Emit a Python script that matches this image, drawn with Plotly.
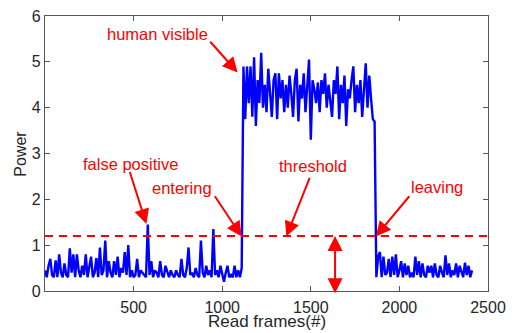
import plotly.graph_objects as go

# ---------------- data ----------------
frames_low1 = list(range(0, 1120, 10))
power_low1 = [0.45, 0.3, 0.55, 0.7, 0.35, 0.3, 0.67, 0.3, 0.8, 0.4,
              0.3, 0.6, 0.35, 0.3, 0.93, 0.4, 0.8, 0.3, 0.8, 0.45,
              0.3, 0.55, 0.35, 0.8, 0.3, 0.5, 0.75, 0.3, 0.4, 0.72,
              0.3, 0.95, 0.35, 0.45, 1.1, 0.3, 0.65, 0.4, 0.3, 0.65,
              0.35, 0.75, 0.3, 0.5, 0.4, 0.85, 0.35, 1.0, 0.3, 0.45,
              0.3, 0.35, 0.7, 0.3, 0.45, 0.4, 0.35, 0.3, 1.45, 0.35,
              0.65, 0.3, 0.45, 0.4, 0.3, 0.65, 0.35, 0.3, 0.55, 0.4,
              0.3, 0.45, 0.35, 0.3, 0.45, 0.35, 0.3, 0.7, 0.35, 0.3,
              0.5, 0.95, 0.35, 0.4, 0.3, 0.5, 0.35, 0.3, 1.1, 0.4,
              0.3, 0.55, 0.35, 0.45, 0.3, 1.35, 0.35, 0.45, 0.3, 0.55,
              0.35, 0.2, 0.4, 0.55, 0.3, 0.35, 0.3, 0.55, 0.3, 0.45,
              0.3, 0.5]

frames_high = list(range(1120, 1870, 10))
power_high = [4.9, 3.75, 4.9, 4.1, 4.9, 3.8, 5.1, 3.6, 4.6, 4.1,
              5.2, 4.0, 4.5, 3.9, 4.85, 4.2, 3.8, 4.6, 4.75, 3.75,
              4.75, 4.2, 4.6, 3.9, 4.5, 4.0, 4.7, 4.3, 3.8, 4.6,
              4.85, 3.7, 4.5, 4.2, 4.75, 3.9, 4.4, 5.05, 3.3, 4.6,
              4.4, 4.1, 4.55, 3.9, 4.6, 4.3, 4.75, 4.0, 4.5, 4.2,
              3.8, 4.6, 4.3, 4.9, 3.75, 4.5, 4.1, 4.7, 3.6, 4.4,
              4.2, 4.6, 4.9, 3.9, 4.5, 4.1, 4.6, 3.8, 4.4, 4.97,
              4.0, 4.7, 4.2, 3.75, 3.7]

frames_low2 = list(range(1870, 2420, 10))
power_low2 = [0.3, 0.75, 0.85, 0.3, 0.75, 0.35, 0.4, 0.7, 0.3, 0.75,
              0.35, 0.8, 0.3, 0.45, 0.65, 0.3, 0.6, 0.35, 0.55, 0.3,
              0.4, 0.3, 0.75, 0.35, 0.65, 0.3, 0.6, 0.35, 0.3, 0.55,
              0.4, 0.55, 0.3, 0.6, 0.35, 0.3, 0.55, 0.4, 0.3, 0.78,
              0.35, 0.6, 0.3, 0.45, 0.35, 0.6, 0.3, 0.55, 0.4, 0.3,
              0.62, 0.35, 0.55, 0.3, 0.45]

threshold = 1.2
x_ticks = [500, 1000, 1500, 2000, 2500]
y_ticks = [0, 1, 2, 3, 4, 5, 6]

frames = frames_low1 + frames_high + frames_low2
power = power_low1 + power_high + power_low2

# annotation labels: (text, text_x, text_y, tail_x, tail_y, tip_x, tip_y)
labels = [
    ("human visible", 633, 5.61, 925, 5.47, 1087, 4.77),
    ("false positive", 482, 2.78, 476, 2.63, 572, 1.46),
    ("entering", 774, 2.25, 953, 2.10, 1110, 1.19),
    ("threshold", 1513, 2.73, 1497, 2.50, 1362, 1.19),
    ("leaving", 2214, 2.27, 2063, 2.10, 1867, 1.19),
]
gap_x = 1637
gap_bottom = -0.08

RED = "#FF0000"
GREY = "#262626"
FONT = "Liberation Sans, Arial, sans-serif"

fig = go.Figure()
fig.add_trace(go.Scatter(x=frames, y=power, mode="lines",
                         line=dict(color="#0000FF", width=2.4),
                         showlegend=False, hoverinfo="skip"))

fig.add_shape(type="line", xref="x", yref="y", x0=0, x1=2500,
              y0=threshold, y1=threshold,
              line=dict(color=RED, width=2, dash="8px,6px"))

anns = []
for text, tx, ty, ax, ay, x, y in labels:
    anns.append(dict(x=tx, y=ty, xref="x", yref="y", text=text,
                     showarrow=False, font=dict(color=RED, size=16.5, family=FONT)))
    anns.append(dict(x=x, y=y, ax=ax, ay=ay, xref="x", yref="y",
                     axref="x", ayref="y", text="", showarrow=True,
                     arrowhead=2, arrowsize=1.5, arrowwidth=2, arrowcolor=RED))
anns.append(dict(x=gap_x, y=threshold, ax=gap_x, ay=gap_bottom, xref="x", yref="y",
                 axref="x", ayref="y", text="", showarrow=True,
                 arrowhead=2, startarrowhead=2, arrowside="end+start",
                 arrowsize=1.5, startarrowsize=1.5, arrowwidth=2, arrowcolor=RED))
# axis titles
anns.append(dict(x=-0.056, y=0.5, xref="paper", yref="paper", text="Power",
                 textangle=-90, showarrow=False, xanchor="center", yanchor="middle",
                 font=dict(color=GREY, size=16, family=FONT)))
anns.append(dict(x=0.5, y=-0.112, xref="paper", yref="paper", text="Read frames(#)",
                 showarrow=False, xanchor="center", yanchor="middle",
                 font=dict(color=GREY, size=17, family=FONT)))

axis_common = dict(showline=True, linecolor="#555555", linewidth=1.2, mirror="ticks",
                   ticks="inside", ticklen=5, tickcolor="#555555", tickwidth=1,
                   showgrid=False, zeroline=False,
                   tickfont=dict(color=GREY, size=16, family=FONT))

fig.update_layout(
    width=514, height=333,
    margin=dict(l=45, r=23, t=8, b=42),
    paper_bgcolor="white", plot_bgcolor="white",
    xaxis=dict(range=[0, 2500], tickvals=x_ticks, ticklabelstandoff=2, **axis_common),
    yaxis=dict(range=[0, 6], tickvals=y_ticks, **axis_common),
    annotations=anns,
    showlegend=False,
)

fig.write_html("out.html", config={"displayModeBar": False},
               post_script="document.body.style.margin='0';document.body.style.overflow='hidden';")
